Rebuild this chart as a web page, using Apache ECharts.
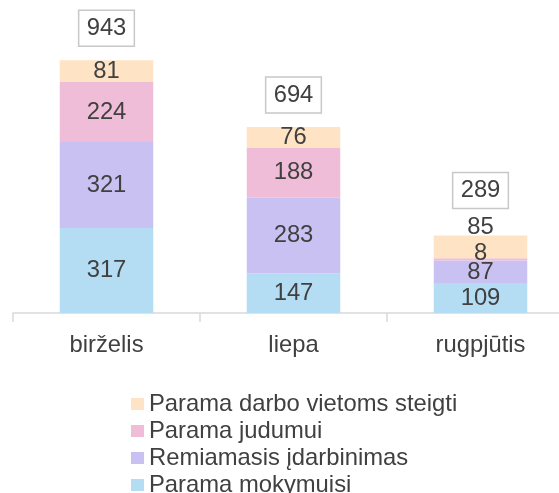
<!DOCTYPE html>
<html>
<head>
<meta charset="utf-8">
<script src="https://cdn.jsdelivr.net/npm/echarts@6/dist/echarts.min.js"></script>
<style>
  html, body { margin: 0; padding: 0; background: #fff; }
  #chart { width: 559px; height: 493px; }
</style>
</head>
<body>
<div id="chart"></div>
<script>
// data
var months = ['birželis', 'liepa', 'rugpjūtis'];
var mokymuisi = [317, 147, 109];
var idarbinimas = [321, 283, 87];
var judumui = [224, 188, 8];
var steigti = [81, 76, 85];
var totals = [943, 694, 289];

var font = 'Liberation Sans, Arial, sans-serif';
var textColor = '#404040';
var fs = 23.8;

// small label nudges where the original moved them apart
function withOffsets(values, offsets) {
  return values.map(function (v, i) {
    if (!offsets[i]) return v;
    return { value: v, label: { offset: offsets[i] } };
  });
}

function stackSeries(name, values, color, offsets) {
  return {
    name: name,
    type: 'bar',
    stack: 'all',
    barWidth: '50%',
    itemStyle: { color: color },
    label: {
      show: true,
      position: 'inside',
      color: textColor,
      fontSize: fs,
      fontFamily: font
    },
    data: withOffsets(values, offsets || [])
  };
}

var chart = echarts.init(document.getElementById('chart'));
var option = {
  animation: false,
  grid: { left: 13, width: 561, top: 45, bottom: 180, outerBoundsMode: 'none', containLabel: false },
  xAxis: {
    type: 'category',
    data: months,
    axisLine: { lineStyle: { color: '#d9d9d9', width: 1.5 } },
    axisTick: { show: true, length: 9, lineStyle: { color: '#d9d9d9', width: 1.5 } },
    axisLabel: { color: textColor, fontSize: fs, fontFamily: font, margin: 20 }
  },
  yAxis: {
    type: 'value',
    min: 0,
    max: 1000,
    show: false,
    splitLine: { show: false }
  },
  legend: {
    orient: 'vertical',
    left: 131,
    top: 392,
    height: 200,
    padding: 0,
    icon: 'rect',
    itemWidth: 13,
    itemHeight: 12,
    itemGap: 3,
    data: ['Parama darbo vietoms steigti', 'Parama judumui', 'Remiamasis įdarbinimas', 'Parama mokymuisi'],
    textStyle: { color: textColor, fontSize: fs, lineHeight: 24, fontFamily: font }
  },
  series: [
    stackSeries('Parama mokymuisi', mokymuisi, '#b4dcf3'),
    stackSeries('Remiamasis įdarbinimas', idarbinimas, '#c9c1f2'),
    stackSeries('Parama judumui', judumui, '#f0bdd8', [null, null, [0, -6]]),
    stackSeries('Parama darbo vietoms steigti', steigti, '#fee3c5', [null, null, [0, -20]]),
    {
      name: 'total',
      type: 'bar',
      barWidth: '50%',
      barGap: '-100%',
      silent: true,
      itemStyle: { color: 'rgba(0,0,0,0)' },
      label: {
        show: true,
        position: 'top',
        distance: 14,
        color: textColor,
        fontSize: fs,
        lineHeight: 24,
        fontFamily: font,
        borderColor: '#c8c8c8',
        borderWidth: 1.5,
        padding: [6, 8]
      },
      data: totals.map(function (v, i) {
        return i === 2 ? { value: v, label: { distance: 27 } } : v;
      })
    }
  ]
};
chart.setOption(option);
</script>
</body>
</html>
